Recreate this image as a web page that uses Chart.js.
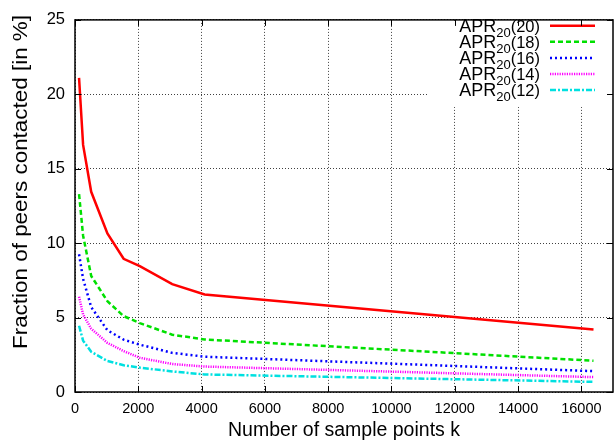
<!DOCTYPE html>
<html>
<head>
<meta charset="utf-8">
<script src="https://cdn.jsdelivr.net/npm/chart.js@4/dist/chart.umd.min.js"></script>
<style>
html,body{margin:0;padding:0;background:#fff;}
#wrap{width:614px;height:442px;position:relative;}
</style>
</head>
<body>
<div id="wrap"><canvas id="c"></canvas></div>
<script>
// ---- data ----
const samplePoints = [128, 256, 512, 1024, 1536, 2048, 3072, 4096, 16384];
const apr20 = [21.1, 16.6, 13.45, 10.65, 8.95, 8.45, 7.25, 6.55, 4.2];
const apr18 = [13.3, 10.5, 7.8, 6.1, 5.1, 4.63, 3.85, 3.53, 2.1];
const apr16 = [9.25, 7.6, 5.7, 4.15, 3.52, 3.18, 2.63, 2.37, 1.4];
const apr14 = [6.4, 5.2, 4.25, 3.3, 2.75, 2.3, 1.88, 1.71, 1.0];
const apr12 = [4.45, 3.45, 2.7, 2.08, 1.8, 1.64, 1.38, 1.18, 0.68];
const seriesParams = ['20', '18', '16', '14', '12'];
const xTicks = [0, 2000, 4000, 6000, 8000, 10000, 12000, 14000, 16000];
const yTicks = [0, 5, 10, 15, 20, 25];
const xTitle = 'Number of sample points k';
const yTitle = 'Fraction of peers contacted [in %]';

const FONT = "'Liberation Sans', Arial, Helvetica, sans-serif";
const styles = [
  {color: '#ff0000', dash: []},
  {color: '#00e000', dash: [5, 3]},
  {color: '#0000ff', dash: [2, 3]},
  {color: '#ff00ff', dash: [1.2, 1.2]},
  {color: '#00e0e0', dash: [6, 2, 2, 2]}
];
const seriesValues = [apr20, apr18, apr16, apr14, apr12];

const datasets = seriesValues.map((vals, i) => ({
  label: 'APR20(' + seriesParams[i] + ')',
  data: samplePoints.map((k, j) => ({x: k, y: vals[j]})),
  borderColor: styles[i].color,
  borderDash: styles[i].dash,
  borderWidth: 2.5,
  pointRadius: 0,
  tension: 0,
  fill: false
}));

const framePlugin = {
  id: 'frame',
  beforeDraw(chart) {
    const ctx = chart.ctx;
    ctx.save();
    ctx.fillStyle = '#fff';
    ctx.fillRect(0, 0, chart.width, chart.height);
    ctx.restore();
  },
  afterDraw(chart) {
    const ctx = chart.ctx;
    const a = chart.chartArea;
    const xs = chart.scales.x, ys = chart.scales.y;
    ctx.save();
    // legend box (opaque)
    ctx.fillStyle = '#fff';
    ctx.fillRect(427, a.top + 1, a.right - 428, 86);
    // legend entries
    const rowH = 16.1;
    datasets.forEach((ds, i) => {
      const cy = 25.7 + i * rowH;
      const base = cy + 6;
      ctx.fillStyle = '#000';
      ctx.textBaseline = 'alphabetic';
      ctx.textAlign = 'left';
      ctx.font = '18px ' + FONT;
      const wA = ctx.measureText('APR').width;
      ctx.font = '13px ' + FONT;
      const wS = ctx.measureText('20').width;
      ctx.font = '16.5px ' + FONT;
      const p = '(' + seriesParams[i] + ')';
      const wP = ctx.measureText(p).width;
      let x = 540 - (wA + wS + wP);
      ctx.font = '18px ' + FONT;
      ctx.fillText('APR', x, base);
      x += wA;
      ctx.font = '13px ' + FONT;
      ctx.fillText('20', x, base + 5);
      x += wS;
      ctx.font = '16.5px ' + FONT;
      ctx.fillText(p, x, base);
      ctx.strokeStyle = ds.borderColor;
      ctx.lineWidth = 2.5;
      ctx.setLineDash(ds.borderDash);
      ctx.beginPath();
      ctx.moveTo(550, cy);
      ctx.lineTo(595, cy);
      ctx.stroke();
    });
    ctx.setLineDash([]);
    // border
    ctx.strokeStyle = '#000';
    ctx.lineWidth = 1.5;
    ctx.strokeRect(a.left, a.top, a.right - a.left, a.bottom - a.top);
    // inward ticks on all four sides
    ctx.lineWidth = 1;
    const tl = 6;
    ctx.beginPath();
    xTicks.forEach(v => {
      const px = Math.round(xs.getPixelForValue(v)) + 0.5;
      ctx.moveTo(px, a.bottom); ctx.lineTo(px, a.bottom - tl);
      ctx.moveTo(px, a.top); ctx.lineTo(px, a.top + tl);
    });
    yTicks.forEach(v => {
      const py = Math.round(ys.getPixelForValue(v)) + 0.5;
      ctx.moveTo(a.left, py); ctx.lineTo(a.left + tl, py);
      ctx.moveTo(a.right, py); ctx.lineTo(a.right - tl, py);
    });
    ctx.stroke();
    // y-axis title
    ctx.fillStyle = '#000';
    ctx.translate(21.5, 182);
    ctx.rotate(-Math.PI / 2);
    ctx.scale(1.15, 1);
    ctx.font = '19.5px ' + FONT;
    ctx.textAlign = 'center';
    ctx.textBaseline = 'middle';
    ctx.fillText(yTitle, 0, 0);
    ctx.restore();
  }
};

new Chart(document.getElementById('c'), {
  type: 'line',
  data: {datasets},
  options: {
    responsive: true,
    maintainAspectRatio: false,
    devicePixelRatio: 1,
    animation: false,
    layout: {padding: {top: 12, right: 1, left: 0, bottom: 0}},
    plugins: {legend: {display: false}, tooltip: {enabled: false}},
    scales: {
      x: {
        type: 'linear', min: 0, max: 17000,
        afterBuildTicks: s => { s.ticks = xTicks.map(v => ({value: v})); },
        afterFit: s => { s.height = 50; },
        grid: {color: 'rgba(0,0,0,0.75)', lineWidth: 1, drawTicks: false},
        border: {display: false, dash: [1, 2]},
        ticks: {color: '#000', font: {family: FONT, size: 14.5}, padding: 8, maxRotation: 0,
                callback: v => String(v)},
        title: {display: true, text: xTitle, color: '#000', font: {family: FONT, size: 19.5}, padding: {top: 0, bottom: 0}}
      },
      y: {
        type: 'linear', min: 0, max: 25,
        afterBuildTicks: s => { s.ticks = yTicks.map(v => ({value: v})); },
        afterFit: s => { s.width = 75; },
        grid: {color: 'rgba(0,0,0,0.75)', lineWidth: 1, drawTicks: false},
        border: {display: false, dash: [1, 2]},
        ticks: {color: '#000', font: {family: FONT, size: 16.5}, padding: 10,
                callback: v => String(v)}
      }
    }
  },
  plugins: [framePlugin]
});
</script>
</body>
</html>
